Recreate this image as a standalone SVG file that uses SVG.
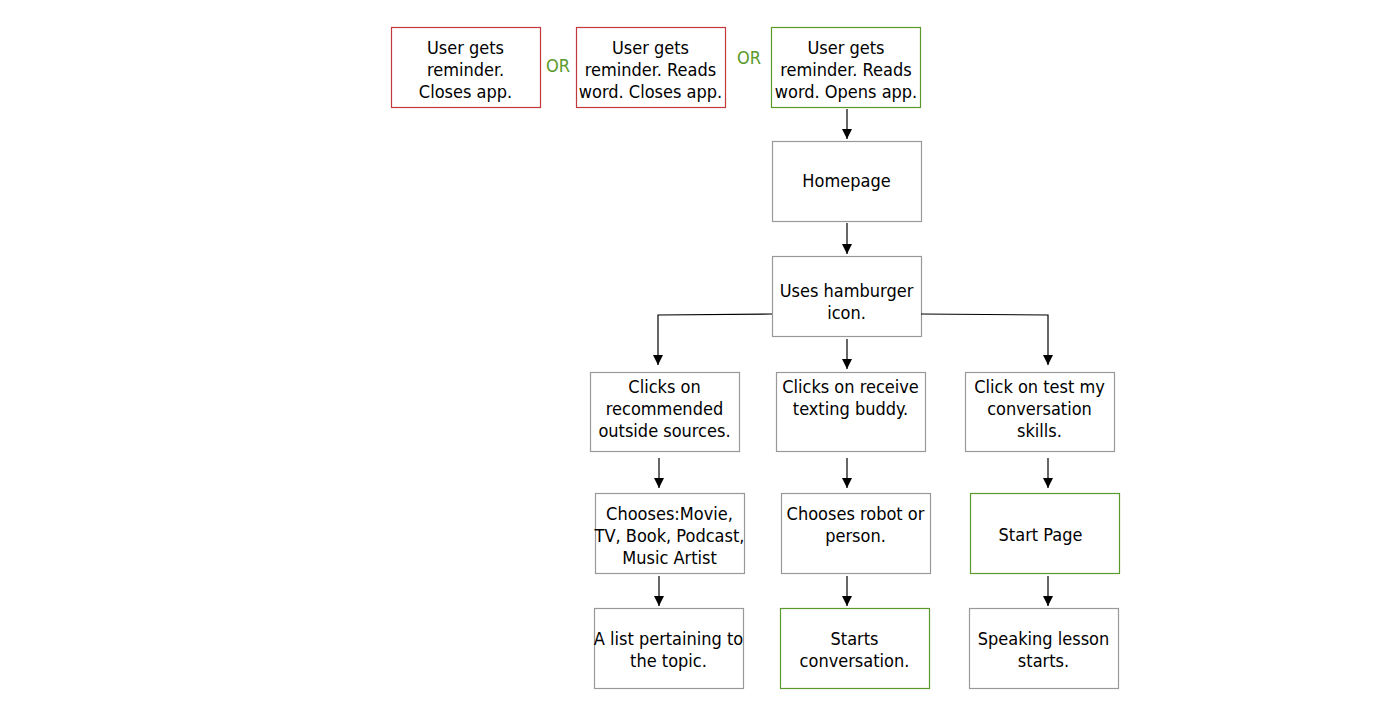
<svg xmlns="http://www.w3.org/2000/svg" width="1400" height="713" viewBox="0 0 1400 713">
<defs>
<marker id="ah" viewBox="0 0 10 10" refX="10" refY="5" markerWidth="10" markerHeight="10" markerUnits="userSpaceOnUse" orient="auto"><path d="M0,0 L10,5 L0,10 z" fill="#000"/></marker>
<style>
.box{fill:#fff;stroke:#999;stroke-width:1.2}
.red{stroke:#c0393b}
.green{stroke:#5a9a2a}
text{font-family:"DejaVu Sans Condensed","DejaVu Sans",sans-serif;font-size:18px;fill:#000;text-anchor:middle}
.or{fill:#5a9a2a}
.c{fill:none;stroke:#000;stroke-width:1.2;marker-end:url(#ah)}
</style>
</defs>
<rect width="1400" height="713" fill="#fff"/>
<g id="n1"><rect class="box red" x="391.5" y="27.5" width="149" height="80"/><text x="465.5" y="54">User gets</text><text x="465.5" y="76">reminder.</text><text x="465.5" y="98">Closes app.</text></g>
<g id="or1"><text class="or" x="558" y="72">OR</text></g>
<g id="n2"><rect class="box red" x="576.5" y="27.5" width="149" height="80"/><text x="650.5" y="54">User gets</text><text x="650.5" y="76">reminder. Reads</text><text x="650.5" y="98">word. Closes app.</text></g>
<g id="or2"><text class="or" x="749" y="64">OR</text></g>
<g id="n3"><rect class="box green" x="771.5" y="27.5" width="149" height="80"/><text x="846" y="54">User gets</text><text x="846" y="76">reminder. Reads</text><text x="846" y="98">word. Opens app.</text></g>
<g id="n4"><rect class="box" x="772.5" y="141.5" width="149" height="80"/><text x="846.5" y="187">Homepage</text></g>
<g id="n5"><rect class="box" x="772.5" y="256.5" width="149" height="80"/><text x="846.5" y="297">Uses hamburger</text><text x="846.5" y="319">icon.</text></g>
<g id="n6"><rect class="box" x="590.5" y="372.5" width="149" height="79"/><text x="664.5" y="393">Clicks on</text><text x="664.5" y="415">recommended</text><text x="664.5" y="437">outside sources.</text></g>
<g id="n7"><rect class="box" x="776.5" y="372.5" width="149" height="79"/><text x="850.5" y="393">Clicks on receive</text><text x="850.5" y="415">texting buddy.</text></g>
<g id="n8"><rect class="box" x="965.5" y="372.5" width="149" height="79"/><text x="1039.5" y="393">Click on test my</text><text x="1039.5" y="415">conversation</text><text x="1039.5" y="437">skills.</text></g>
<g id="n9"><rect class="box" x="595.5" y="493.5" width="149" height="80"/><text x="669.5" y="520">Chooses:Movie,</text><text x="669.5" y="542">TV, Book, Podcast,</text><text x="669.5" y="564">Music Artist</text></g>
<g id="n10"><rect class="box" x="781.5" y="493.5" width="149" height="80"/><text x="855.5" y="520">Chooses robot or</text><text x="855.5" y="542">person.</text></g>
<g id="n11"><rect class="box green" x="970.5" y="493.5" width="149" height="80"/><text x="1040.5" y="541">Start Page</text></g>
<g id="n12"><rect class="box" x="594.5" y="608.5" width="149" height="80"/><text x="668.5" y="645">A list pertaining to</text><text x="668.5" y="667">the topic.</text></g>
<g id="n13"><rect class="box green" x="780.5" y="608.5" width="149" height="80"/><text x="854.5" y="645">Starts</text><text x="854.5" y="667">conversation.</text></g>
<g id="n14"><rect class="box" x="969.5" y="608.5" width="149" height="80"/><text x="1043.5" y="645">Speaking lesson</text><text x="1043.5" y="667">starts.</text></g>
<g id="connectors">
<path class="c" d="M847,109 V139"/>
<path class="c" d="M847,223 V254"/>
<path class="c" d="M772,314 L658,315 V365"/>
<path class="c" d="M921,314 L1048,315 V365"/>
<path class="c" d="M847,339 V369"/>
<path class="c" d="M659,458 V488"/>
<path class="c" d="M847,458 V488"/>
<path class="c" d="M1048,458 V488"/>
<path class="c" d="M659,576 V606"/>
<path class="c" d="M847,576 V606"/>
<path class="c" d="M1048,576 V606"/>
</g>
</svg>
